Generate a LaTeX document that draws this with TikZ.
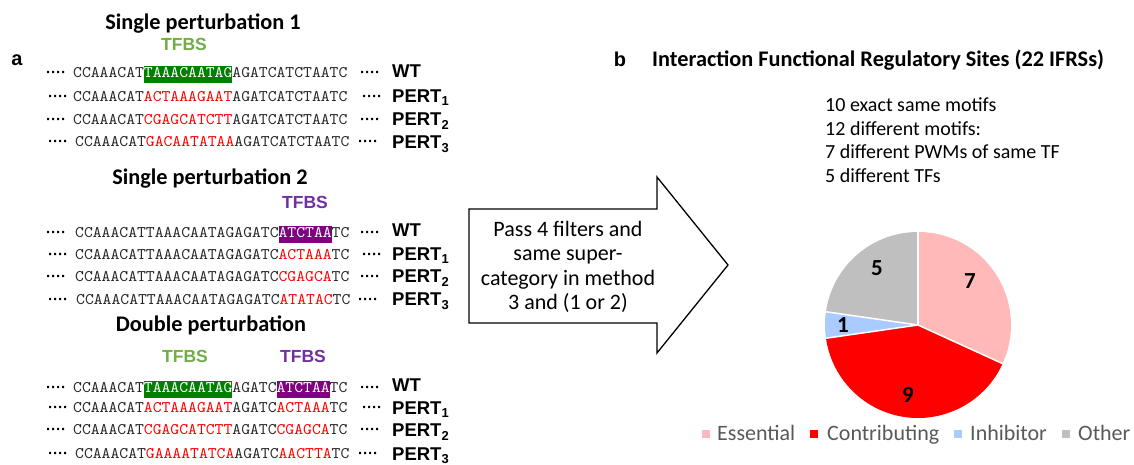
\documentclass[tikz,border=0pt]{standalone}
\usepackage{fontspec}
\setmainfont{Carlito}
\newfontfamily\arialf{Liberation Sans}
\newfontfamily\monof{lmmono10-regular.otf}[FakeStretch=1.04]
\definecolor{hlgreen}{HTML}{008000}
\definecolor{hlpurple}{HTML}{800080}
\definecolor{tfgreen}{HTML}{70AD47}
\definecolor{tfpurple}{HTML}{7030A0}
\definecolor{seqred}{HTML}{FF0000}
\definecolor{seqgray}{HTML}{262626}
\definecolor{essc}{HTML}{FFB9B9}
\definecolor{contc}{HTML}{FF0000}
\definecolor{inhc}{HTML}{A9CBFF}
\definecolor{othc}{HTML}{BFBFBF}
\definecolor{legtext}{HTML}{595959}
\newcommand\hlg[1]{{\setlength\fboxsep{0pt}\colorbox{hlgreen}{\strut\textcolor{white}{#1}}}}
\newcommand\hlp[1]{{\setlength\fboxsep{0pt}\colorbox{hlpurple}{\strut\textcolor{white}{#1}}}}
\newcommand\rd[1]{\textcolor{seqred}{#1}}
\tikzset{
  seq/.style={anchor=base west, inner sep=0pt, text=seqgray, font=\monof\fontsize{16.2bp}{17bp}\selectfont},
  dotsl/.style={anchor=base west, inner sep=0pt, font=\arialf\bfseries\fontsize{15bp}{17bp}\selectfont},
  lab/.style={anchor=base west, inner sep=0pt, font=\arialf\bfseries\fontsize{18.5bp}{20bp}\selectfont},
  ttl/.style={anchor=base, inner sep=0pt, font=\bfseries\fontsize{22.3bp}{26bp}\selectfont},
  tfbs/.style={anchor=base, inner sep=0pt, font=\arialf\bfseries\fontsize{17.5bp}{20bp}\selectfont},
  panel/.style={anchor=base, inner sep=0pt, font=\arialf\bfseries\fontsize{20bp}{24bp}\selectfont},
  body/.style={inner sep=0pt, font=\fontsize{22bp}{24.5bp}\selectfont},
  lst/.style={anchor=base west, inner sep=0pt, font=\fontsize{20bp}{24bp}\selectfont},
  pielab/.style={inner sep=0pt, font=\bfseries\fontsize{23bp}{26bp}\selectfont},
  legsq/.style={minimum size=8.5bp, inner sep=0pt},
  legtx/.style={anchor=base west, inner sep=0pt, text=legtext, font=\fontsize{22bp}{26bp}\selectfont},
  slice/.style={draw=white, line width=1.5bp},
}
% name, left dots x, seq x, baseline, content, right dots x, label, label baseline
\newcommand\srow[8]{%
  \node[dotsl] (#1l) at (#2,#4) {····};
  \node[seq] (#1s) at (#3,#4) {#5};
  \node[dotsl] (#1r) at (#6,#4) {····};
  \node[lab] (#1t) at (392,#8) {#7};
}
\begin{document}
\begin{tikzpicture}[x=1bp,y=-1bp]
\useasboundingbox (0,0) rectangle (1134,465);
% ---------- panel a ----------
\node[panel] (pa) at (17,66) {a};
\node[ttl] (t1) at (203,30) {Single perturbation 1};
\node[tfbs, text=tfgreen] (f1) at (184,51) {TFBS};
\srow{a1}{46}{73}{78}{CCAAACAT\hlg{TAAACAATAG}AGATCATCTAATC}{360}{WT}{78}
\srow{a2}{48}{73}{102}{CCAAACAT\rd{ACTAAAGAAT}AGATCATCTAATC}{362}{PERT\textsubscript{1}}{103}
\srow{a3}{46}{73}{125}{CCAAACAT\rd{CGAGCATCTT}AGATCATCTAATC}{360}{PERT\textsubscript{2}}{126}
\srow{a4}{48}{75}{147}{CCAAACAT\rd{GACAATATAA}AGATCATCTAATC}{358}{PERT\textsubscript{3}}{149}

\node[ttl] (t2) at (210,185) {Single perturbation 2};
\node[tfbs, text=tfpurple] (f2) at (305,209) {TFBS};
\srow{b1}{46}{75}{238}{CCAAACATTAAACAATAGAGATC\hlp{ATCTAA}TC}{360}{WT}{237}
\srow{b2}{48}{75}{260}{CCAAACATTAAACAATAGAGATC\rd{ACTAAA}TC}{362}{PERT\textsubscript{1}}{261}
\srow{b3}{46}{75}{282}{CCAAACATTAAACAATAGAGATC\rd{CGAGCA}TC}{360}{PERT\textsubscript{2}}{283}
\srow{b4}{48}{76}{305}{CCAAACATTAAACAATAGAGATC\rd{ATATAC}TC}{358}{PERT\textsubscript{3}}{306}

\node[ttl] (t3) at (211,332) {Double perturbation};
\node[tfbs, text=tfgreen] (f3) at (185,363) {TFBS};
\node[tfbs, text=tfpurple] (f4) at (303,363) {TFBS};
\srow{c1}{46}{73}{393}{CCAAACAT\hlg{TAAACAATAG}AGATC\hlp{ATCTAA}TC}{360}{WT}{392}
\srow{c2}{48}{73}{413}{CCAAACAT\rd{ACTAAAGAAT}AGATC\rd{ACTAAA}TC}{362}{PERT\textsubscript{1}}{415}
\srow{c3}{46}{73}{435}{CCAAACAT\rd{CGAGCATCTT}AGATC\rd{CGAGCA}TC}{360}{PERT\textsubscript{2}}{437}
\srow{c4}{48}{75}{458}{CCAAACAT\rd{GAAAATATCA}AGATC\rd{AACTTA}TC}{358}{PERT\textsubscript{3}}{460}

% ---------- block arrow ----------
\draw[line width=1.3bp, line join=miter] (469,209) -- (657,209) -- (657,177) -- (728,265)
  -- (657,353) -- (657,323) -- (469,323) -- cycle;
\node[body, align=center] (arrtxt) at (568,267)
  {Pass 4 filters and\\same super-\\category in method\\3 and (1 or 2)};

% ---------- panel b ----------
\node[panel] (pb) at (620,67) {b};
\node[ttl, anchor=base west] (t4) at (652,67) {Interaction Functional Regulatory Sites (22 IFRSs)};
\node[lst] (ls1) at (825,112) {10 exact same motifs};
\node[lst] (ls2) at (825,136) {12 different motifs:};
\node[lst] (ls3) at (825,159) {7 different PWMs of same TF};
\node[lst] (ls4) at (825,183) {5 different TFs};

% pie: centre (918,325), radius 93; angles flipped since y points down
\coordinate (pc) at (918,325);
\fill[essc]  (pc) -- ++(-90:93) arc (-90:24.545:93) -- cycle;
\fill[contc] (pc) -- ++(24.545:93) arc (24.545:171.818:93) -- cycle;
\fill[inhc]  (pc) -- ++(171.818:93) arc (171.818:188.182:93) -- cycle;
\fill[othc]  (pc) -- ++(188.182:93) arc (188.182:270:93) -- cycle;
\draw[slice] (pc) -- ++(-90:94);
\draw[slice] (pc) -- ++(24.545:94);
\draw[slice] (pc) -- ++(171.818:94);
\draw[slice] (pc) -- ++(188.182:94);
\node[pielab] (n7) at (970,281) {7};
\node[pielab] (n9) at (908,395) {9};
\node[pielab] (n1) at (843,325) {1};
\node[pielab] (n5) at (877,268) {5};

% legend
\node[legsq, fill=essc]  (l1) at (706,434) {};
\node[legtx] (l1t) at (717,441) {Essential};
\node[legsq, fill=contc] (l2) at (814,434) {};
\node[legtx] (l2t) at (827,441) {Contributing};
\node[legsq, fill=inhc]  (l3) at (958,434) {};
\node[legtx] (l3t) at (970,441) {Inhibitor};
\node[legsq, fill=othc]  (l4) at (1066,434) {};
\node[legtx] (l4t) at (1078,441) {Other};
\end{tikzpicture}
\end{document}
